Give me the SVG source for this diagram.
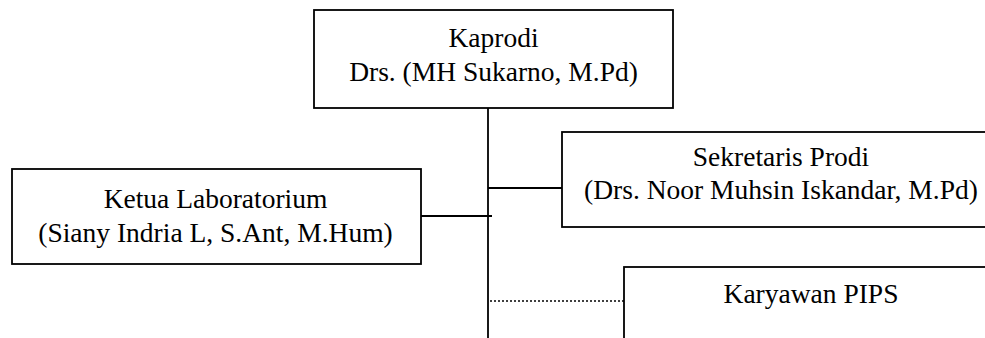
<svg xmlns="http://www.w3.org/2000/svg" width="985" height="338" viewBox="0 0 985 338">
<style>
.box{fill:#fff;stroke:#000;stroke-width:1.8}
.ln{stroke:#000;stroke-width:1.8;fill:none}
.dot{stroke:#000;stroke-width:1.6;stroke-dasharray:2 2;fill:none}
.t{font-size:27.5px;fill:#000;text-anchor:middle}
</style>
<rect width="985" height="338" fill="#fff"/>
<g id="connectors">
<line class="ln" x1="488" y1="108" x2="488" y2="338"/>
<line class="ln" x1="488" y1="188" x2="562" y2="188"/>
<line class="ln" x1="421" y1="216" x2="492" y2="216"/>
<line class="dot" x1="490" y1="301" x2="624" y2="301"/>
</g>
<g font-family="'Liberation Serif', 'Times New Roman', serif">
<g id="kaprodi">
<rect class="box" x="314" y="10" width="359" height="98"/>
<text class="t" x="493.5" y="47">Kaprodi</text>
<text class="t" x="493.5" y="81">Drs. (MH Sukarno, M.Pd)</text>
</g>
<g id="ketua-lab">
<rect class="box" x="12" y="169" width="409" height="95"/>
<text class="t" x="215.5" y="208">Ketua Laboratorium</text>
<text class="t" x="215.5" y="242">(Siany Indria L, S.Ant, M.Hum)</text>
</g>
<g id="sekretaris">
<rect class="box" x="562" y="132" width="436" height="95"/>
<text class="t" x="781" y="166">Sekretaris Prodi</text>
<text class="t" x="781" y="199">(Drs. Noor Muhsin Iskandar, M.Pd)</text>
</g>
<g id="karyawan">
<rect class="box" x="624" y="267" width="374" height="90"/>
<text class="t" x="811" y="303">Karyawan PIPS</text>
</g>
</g>
</svg>
